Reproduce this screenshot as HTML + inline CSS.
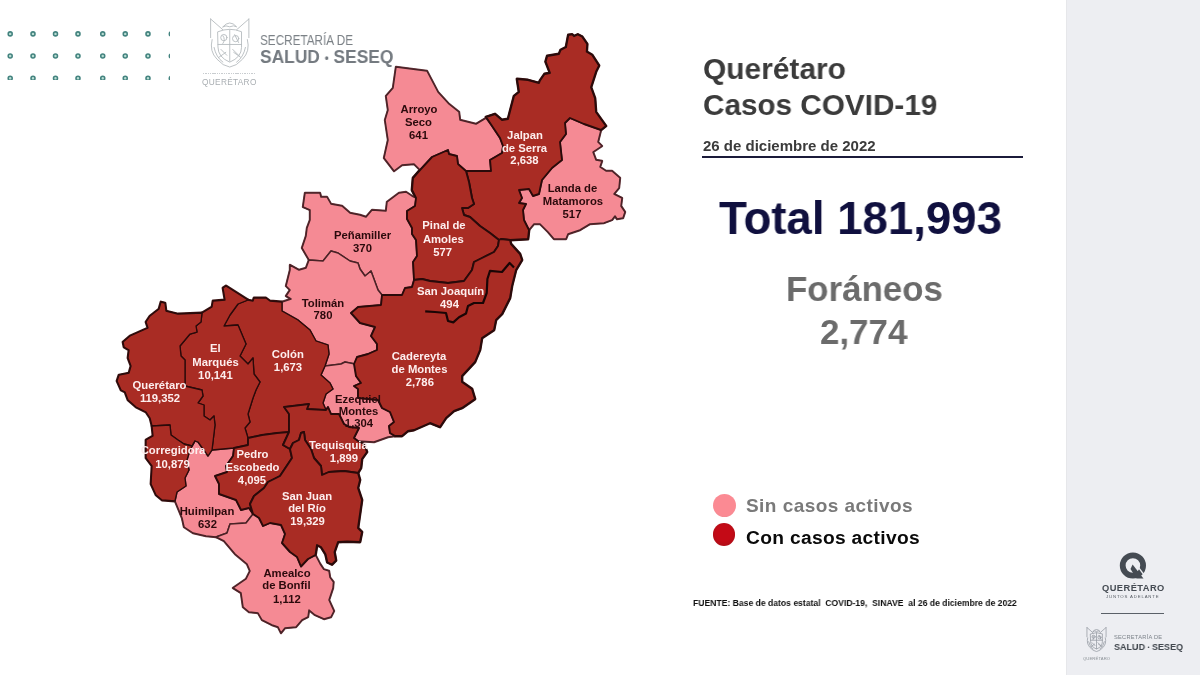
<!DOCTYPE html>
<html lang="es"><head><meta charset="utf-8"><title>Querétaro Casos COVID-19</title>
<style>
html,body{margin:0;padding:0;background:#fff;}
body{width:1200px;height:675px;position:relative;overflow:hidden;font-family:"Liberation Sans",sans-serif;}
.abs{position:absolute;}
.map{position:absolute;left:0;top:0;}
.t{position:absolute;white-space:nowrap;font-weight:bold;line-height:1;will-change:transform;}
#side{position:absolute;left:1066px;top:0;width:134px;height:675px;background:#EDEEF2;box-shadow:inset 1px 0 0 #e6e7ea;}
</style></head><body>
<svg class="abs" style="left:0;top:0" width="169.6" height="80.1" viewBox="0 0 169.6 80.1"><circle cx="10.2" cy="33.9" r="2.0" fill="#b9ddd3" stroke="#43837f" stroke-width="1.55"/><circle cx="33" cy="33.9" r="2.0" fill="#b9ddd3" stroke="#43837f" stroke-width="1.55"/><circle cx="55.5" cy="33.9" r="2.0" fill="#b9ddd3" stroke="#43837f" stroke-width="1.55"/><circle cx="78" cy="33.9" r="2.0" fill="#b9ddd3" stroke="#43837f" stroke-width="1.55"/><circle cx="102.75" cy="33.9" r="2.0" fill="#b9ddd3" stroke="#43837f" stroke-width="1.55"/><circle cx="125.25" cy="33.9" r="2.0" fill="#b9ddd3" stroke="#43837f" stroke-width="1.55"/><circle cx="148" cy="33.9" r="2.0" fill="#b9ddd3" stroke="#43837f" stroke-width="1.55"/><circle cx="171.3" cy="33.9" r="2.0" fill="#b9ddd3" stroke="#43837f" stroke-width="1.55"/><circle cx="10.2" cy="56" r="2.0" fill="#b9ddd3" stroke="#43837f" stroke-width="1.55"/><circle cx="33" cy="56" r="2.0" fill="#b9ddd3" stroke="#43837f" stroke-width="1.55"/><circle cx="55.5" cy="56" r="2.0" fill="#b9ddd3" stroke="#43837f" stroke-width="1.55"/><circle cx="78" cy="56" r="2.0" fill="#b9ddd3" stroke="#43837f" stroke-width="1.55"/><circle cx="102.75" cy="56" r="2.0" fill="#b9ddd3" stroke="#43837f" stroke-width="1.55"/><circle cx="125.25" cy="56" r="2.0" fill="#b9ddd3" stroke="#43837f" stroke-width="1.55"/><circle cx="148" cy="56" r="2.0" fill="#b9ddd3" stroke="#43837f" stroke-width="1.55"/><circle cx="171.3" cy="56" r="2.0" fill="#b9ddd3" stroke="#43837f" stroke-width="1.55"/><circle cx="10.2" cy="78.3" r="2.0" fill="#b9ddd3" stroke="#43837f" stroke-width="1.55"/><circle cx="33" cy="78.3" r="2.0" fill="#b9ddd3" stroke="#43837f" stroke-width="1.55"/><circle cx="55.5" cy="78.3" r="2.0" fill="#b9ddd3" stroke="#43837f" stroke-width="1.55"/><circle cx="78" cy="78.3" r="2.0" fill="#b9ddd3" stroke="#43837f" stroke-width="1.55"/><circle cx="102.75" cy="78.3" r="2.0" fill="#b9ddd3" stroke="#43837f" stroke-width="1.55"/><circle cx="125.25" cy="78.3" r="2.0" fill="#b9ddd3" stroke="#43837f" stroke-width="1.55"/><circle cx="148" cy="78.3" r="2.0" fill="#b9ddd3" stroke="#43837f" stroke-width="1.55"/><circle cx="171.3" cy="78.3" r="2.0" fill="#b9ddd3" stroke="#43837f" stroke-width="1.55"/></svg>
<svg class="abs" style="left:209px;top:17.5px;opacity:1" width="41.5" height="51" viewBox="0 0 42 52">
 <g fill="none" stroke="#b4b9bd" stroke-width="0.9" stroke-linejoin="round" stroke-linecap="round">
  <path d="M1.5 1 L1.5 20 M1.5 1 L14 12 M40.5 1 L40.5 20 M40.5 1 L28 12"/>
  <path d="M14 9 Q21 1 28 9 Q25 7 21 9 Q17 7 14 9 Z"/>
  <path d="M9 14 Q21 9 33 14 L33 30 Q33 40 21 45 Q9 40 9 30 Z"/>
  <path d="M9 27 H33 M21 12 V44 M14 18 Q17 22 14 26 M26 17 L30 25 M24 32 L30 38 M12 32 L18 38"/>
  <circle cx="15" cy="20" r="3.2"/><circle cx="27" cy="21" r="3.2"/>
  <path d="M3 22 Q0 34 8 42 Q14 49 21 50 Q28 49 34 42 Q42 34 39 22"/>
  <path d="M5 30 Q7 40 14 45 M37 30 Q35 40 28 45"/>
  <path d="M10 40 L17 35 M32 40 L25 35"/>
 </g>
</svg>
<div class="abs" style="left:203px;top:72.5px;width:53px;height:1.6px;background:repeating-linear-gradient(90deg,#c9cdd0 0 1.4px,transparent 1.4px 2.3px)"></div>
<div class="t" style="left:202px;top:78.27px;font-size:8.3px;color:#a9aeb2;font-weight:normal;letter-spacing:0.3px;">QUERÉTARO</div>
<div class="t" style="left:259.7px;top:33.35px;font-size:14px;color:#7b8186;font-weight:normal;transform-origin:0 0;transform:scaleX(0.838);">SECRETARÍA DE</div>
<div class="t" style="left:259.7px;top:47.66px;font-size:18.6px;color:#747a80;transform-origin:0 0;transform:scaleX(0.935);">SALUD <span style="font-size:12px;position:relative;top:-1.5px">•</span> SESEQ</div>
<svg class="map" width="1200" height="675" viewBox="0 0 1200 675">
<defs><clipPath id="tq"><rect x="280" y="430" width="87.5" height="30"/></clipPath></defs>
<g fill="none" stroke="#3a1414" stroke-width="2.8" stroke-linejoin="round">
<polygon points="486,117 495,114 502,120 508,119 514,96 519,92 517,79 528,80 539,83 540,80.5 544.5,74 550,73 545.6,61.7 547.2,56 559,54 560.6,50 566,47.2 568.3,35 572.2,34.4 574,36.2 577.8,34.4 582.2,36.7 587.2,44 586.7,51.7 592.2,55 599,65.6 596,71.7 591,87.2 595,98.3 596,112 606,126 601,130 584,124 570,118 565,123 566,134 560,142 562,160 552,168 542,180 539,194 533,196 529,189 519,190 522,198 519,203 526,204 523,210 524,220 529,230 528,239 510,240 501,239 499,240 490,233 480,226 470,217 464,215 462,208 468,208 474,204 472,198 469,182 466,171 491,171 490,160 502,153 503,146 500,138 492,126"/>
<polygon points="420,170 432,157 448,150 449,154 457,156 458,164 466,171 469,182 472,198 474,204 468,208 462,208 464,215 470,217 480,226 490,233 499,240 498,246 494,252 482,258 474,262 472,270 464,281 448,283 430,281 422,279 414,280 413,262 417,256 416,240 412,234 412,228 407,219 407,211 415,206 416,198 412,190 413,178"/>
<polygon points="382,295 402,295 405,288 412,287 414,280 422,279 430,281 448,283 464,281 472,270 474,262 482,258 494,252 498,246 499,240 501,239 510,240 511,244 520,254 522,260 516,270 512,286 510,298 502,314 496,320 494,330 482,338 480,350 475,362 462,376 462,382 472,389 475,399 462,408 454,411 446,418 440,427 430,423 414,430 408,431 402,436 395,436 390,433 389,426 394,422 390,412 382,408 378,400 358,398 358,389 354,386 361,383 356,376 354,364 357,357 368,354 377,350 377,344 371,336 375,327 360,323 351,313 358,307 381,305"/>
<polygon points="282,302 282,311 298,320 310,330 316,341 328,345 329,354 325,366 321,375 330,383 333,389 326,394 323,403 326,410 307,409 309,404 284,407 289,414 289,432 277,433 262,435 248,438 245,428 250,422 248,414 253,398 256,390 260,382 254,374 253,358 248,364 240,356 246,344 238,325 224,326 230,315 238,304 248,300 253,301 254,298 266,298 270,301"/>
<polygon points="248,300 226,286 223,288 225,300 213,301 212,307 202,313 201,322 196,326 197,332 190,334 180,346 181,356 185,360 185,386 202,390 203,396 198,403 204,405 204,416 210,420 214,416 215,425 212,450 234,448 248,445 248,438 245,428 250,422 248,414 253,398 256,390 260,382 254,374 253,358 248,364 240,356 246,344 238,325 224,326 230,315 238,304"/>
<polygon points="202,313 178,314 166,311 165,303 161,302 159,309 150,316 146,322 148,328 130,336 123,342 124,347 129,350 128,358 131,366 129,373 119,375 117,381 121,390 125,392 128,400 136,407 146,412 150,418 152,426 170,425 171,435 178,440 184,444 192,446 195,441 198,442 208,456 212,450 215,425 214,416 210,420 204,416 204,405 198,403 203,396 202,390 185,386 185,360 181,356 180,346 190,334 197,332 196,326 201,322"/>
<polygon points="152,426 170,425 171,435 178,440 184,444 192,446 195,441 190,450 187,460 189,470 185,478 186,486 177,492 175,501 162,500 156,495 151,484 152,466 146,458 146,440 153,436"/>
<polygon points="234,448 248,445 248,438 262,435 277,433 289,432 283,445 290,449 292,458 284,470 280,476 268,482 264,488 254,496 250,504 253,514 249,508 241,510 236,500 219,494 219,484 215,476 227,472 226,466 233,456"/>
<polygon points="284,407 309,404 307,409 326,410 328,407 331,414 339,414 344,424 349,427 359,428 354,438 358,441 364,444 367,452 362,459 361,468 358,473 344,471 329,472 322,475 321,466 314,458 311,449 305,440 304,432 301,433 299,440 293,443 290,449 283,445 289,432 289,414"/>
<polygon points="290,449 293,443 299,440 301,433 304,432 305,440 311,449 314,458 321,466 322,475 329,472 344,471 358,473 360,480 358,488 362,500 358,528 362,532 360,542 347,541.5 338,542 334.5,552 336,560.5 332,564.5 327.3,562.3 325.5,554.3 321,547 317,545 315.5,555 308,559 301,566.5 297,557 290,552 282,543 285,534 281,525 270,523 263,526 259,518 253,514 250,504 254,496 264,488 268,482 280,476 284,470 292,458"/>
</g>
<g fill="none" stroke="#6a3a40" stroke-width="2.4" stroke-linejoin="round">
<polygon points="396,67 427,71 438,92 449,104 459,112 460,120 476,124 486,118 492,126 500,138 503,146 502,153 490,160 491,171 466,171 458,164 457,156 449,154 448,150 432,157 420,170 414,164 402,165 394,171 384,158 388,140 385,120 388,110 386,96 393,88"/>
<polygon points="601,130 598,142 602,146 593,152 596,160 602,161 600,167 606,171 612,171 620,178 619,188 614,194 622,198 621,206 625,212 623,218 617,219 615,216 612,220 604,223 590,224 580,230 568,234 566,239 554,239 548,232 540,224 534,224 529,230 524,220 523,210 526,204 519,203 522,198 519,190 529,189 533,196 539,194 542,180 552,168 562,160 560,142 566,134 565,123 570,118 584,124"/>
<polygon points="305,193 320,193 321,197 327,197 331,204 342,206 350,213 360,215 366,217 372,210 386,211 387,202 399,193 406,192 412,196 416,198 415,206 407,211 407,219 412,228 412,234 416,240 417,256 413,262 414,280 412,287 405,288 402,295 382,295 378,290 371,271 365,276 360,269 358,263 350,261 338,253 331,251 323,261 309,260 302,248 306,236 307,228 310,220 310,210 303,207"/>
<polygon points="309,260 323,261 331,251 338,253 350,261 358,263 360,269 365,276 371,271 378,290 382,295 381,305 358,307 351,313 360,323 375,327 371,336 377,344 377,350 368,354 357,357 355,364 345,362 341,364 325,366 329,354 328,345 316,341 310,330 298,320 282,311 282,302 291,299 286,296 290,290 286,286 290,270 290,265 299,270 306,268"/>
<polygon points="325,366 341,364 345,362 355,364 356,376 361,383 354,386 358,389 358,398 378,400 382,408 390,412 394,422 389,426 390,433 395,436 388,437 374,442 358,441 354,438 359,428 349,427 344,424 339,414 331,414 328,407 326,410 323,403 326,394 333,389 330,383 321,375"/>
<polygon points="195,441 198,442 208,456 212,450 234,448 233,456 226,466 227,472 215,476 219,484 219,494 236,500 241,510 249,508 253,514 246,523 230,524 227,533 216,537 206,536 193,533 184,527 182,518 175,501 177,492 186,486 185,478 189,470 187,460 190,450"/>
<polygon points="216,537 227,533 230,524 246,523 253,514 259,518 263,526 270,523 281,525 285,534 282,543 290,552 297,557 301,566.5 308,559 315.5,555 320.2,564 323.8,569.4 329,571 330,577.4 333.5,582 333,588 329,600 334,611 331,617 324,619 315,615 309,610 308,617 302,620 296,627 285,628 281,633 278,627 272,625 262,620 258,613 249,612 243,607 241,593 233,588 246,579 250,571 247,564 235,554 224,541"/>
</g>
<g stroke="#4a2226" stroke-width="1.5" stroke-linejoin="round">
<polygon fill="#F58A94" points="396,67 427,71 438,92 449,104 459,112 460,120 476,124 486,118 492,126 500,138 503,146 502,153 490,160 491,171 466,171 458,164 457,156 449,154 448,150 432,157 420,170 414,164 402,165 394,171 384,158 388,140 385,120 388,110 386,96 393,88"/>
<polygon fill="#F58A94" points="601,130 598,142 602,146 593,152 596,160 602,161 600,167 606,171 612,171 620,178 619,188 614,194 622,198 621,206 625,212 623,218 617,219 615,216 612,220 604,223 590,224 580,230 568,234 566,239 554,239 548,232 540,224 534,224 529,230 524,220 523,210 526,204 519,203 522,198 519,190 529,189 533,196 539,194 542,180 552,168 562,160 560,142 566,134 565,123 570,118 584,124"/>
<polygon fill="#F58A94" points="305,193 320,193 321,197 327,197 331,204 342,206 350,213 360,215 366,217 372,210 386,211 387,202 399,193 406,192 412,196 416,198 415,206 407,211 407,219 412,228 412,234 416,240 417,256 413,262 414,280 412,287 405,288 402,295 382,295 378,290 371,271 365,276 360,269 358,263 350,261 338,253 331,251 323,261 309,260 302,248 306,236 307,228 310,220 310,210 303,207"/>
<polygon fill="#F58A94" points="309,260 323,261 331,251 338,253 350,261 358,263 360,269 365,276 371,271 378,290 382,295 381,305 358,307 351,313 360,323 375,327 371,336 377,344 377,350 368,354 357,357 355,364 345,362 341,364 325,366 329,354 328,345 316,341 310,330 298,320 282,311 282,302 291,299 286,296 290,290 286,286 290,270 290,265 299,270 306,268"/>
<polygon fill="#F58A94" points="325,366 341,364 345,362 355,364 356,376 361,383 354,386 358,389 358,398 378,400 382,408 390,412 394,422 389,426 390,433 395,436 388,437 374,442 358,441 354,438 359,428 349,427 344,424 339,414 331,414 328,407 326,410 323,403 326,394 333,389 330,383 321,375"/>
<polygon fill="#F58A94" points="195,441 198,442 208,456 212,450 234,448 233,456 226,466 227,472 215,476 219,484 219,494 236,500 241,510 249,508 253,514 246,523 230,524 227,533 216,537 206,536 193,533 184,527 182,518 175,501 177,492 186,486 185,478 189,470 187,460 190,450"/>
<polygon fill="#F58A94" points="216,537 227,533 230,524 246,523 253,514 259,518 263,526 270,523 281,525 285,534 282,543 290,552 297,557 301,566.5 308,559 315.5,555 320.2,564 323.8,569.4 329,571 330,577.4 333.5,582 333,588 329,600 334,611 331,617 324,619 315,615 309,610 308,617 302,620 296,627 285,628 281,633 278,627 272,625 262,620 258,613 249,612 243,607 241,593 233,588 246,579 250,571 247,564 235,554 224,541"/>
</g>
<g stroke="#2a0a0a" stroke-linejoin="round">
<polygon fill="#A92C24" stroke-width="1.9" points="486,117 495,114 502,120 508,119 514,96 519,92 517,79 528,80 539,83 540,80.5 544.5,74 550,73 545.6,61.7 547.2,56 559,54 560.6,50 566,47.2 568.3,35 572.2,34.4 574,36.2 577.8,34.4 582.2,36.7 587.2,44 586.7,51.7 592.2,55 599,65.6 596,71.7 591,87.2 595,98.3 596,112 606,126 601,130 584,124 570,118 565,123 566,134 560,142 562,160 552,168 542,180 539,194 533,196 529,189 519,190 522,198 519,203 526,204 523,210 524,220 529,230 528,239 510,240 501,239 499,240 490,233 480,226 470,217 464,215 462,208 468,208 474,204 472,198 469,182 466,171 491,171 490,160 502,153 503,146 500,138 492,126"/>
<polygon fill="#A92C24" stroke-width="1.9" points="420,170 432,157 448,150 449,154 457,156 458,164 466,171 469,182 472,198 474,204 468,208 462,208 464,215 470,217 480,226 490,233 499,240 498,246 494,252 482,258 474,262 472,270 464,281 448,283 430,281 422,279 414,280 413,262 417,256 416,240 412,234 412,228 407,219 407,211 415,206 416,198 412,190 413,178"/>
<polygon fill="#A92C24" stroke-width="1.9" points="382,295 402,295 405,288 412,287 414,280 422,279 430,281 448,283 464,281 472,270 474,262 482,258 494,252 498,246 499,240 501,239 510,240 511,244 520,254 522,260 516,270 512,286 510,298 502,314 496,320 494,330 482,338 480,350 475,362 462,376 462,382 472,389 475,399 462,408 454,411 446,418 440,427 430,423 414,430 408,431 402,436 395,436 390,433 389,426 394,422 390,412 382,408 378,400 358,398 358,389 354,386 361,383 356,376 354,364 357,357 368,354 377,350 377,344 371,336 375,327 360,323 351,313 358,307 381,305"/>
<polygon fill="#A92C24" stroke-width="1.3" points="282,302 282,311 298,320 310,330 316,341 328,345 329,354 325,366 321,375 330,383 333,389 326,394 323,403 326,410 307,409 309,404 284,407 289,414 289,432 277,433 262,435 248,438 245,428 250,422 248,414 253,398 256,390 260,382 254,374 253,358 248,364 240,356 246,344 238,325 224,326 230,315 238,304 248,300 253,301 254,298 266,298 270,301"/>
<polygon fill="#A92C24" stroke-width="1.3" points="248,300 226,286 223,288 225,300 213,301 212,307 202,313 201,322 196,326 197,332 190,334 180,346 181,356 185,360 185,386 202,390 203,396 198,403 204,405 204,416 210,420 214,416 215,425 212,450 234,448 248,445 248,438 245,428 250,422 248,414 253,398 256,390 260,382 254,374 253,358 248,364 240,356 246,344 238,325 224,326 230,315 238,304"/>
<polygon fill="#A92C24" stroke-width="1.3" points="202,313 178,314 166,311 165,303 161,302 159,309 150,316 146,322 148,328 130,336 123,342 124,347 129,350 128,358 131,366 129,373 119,375 117,381 121,390 125,392 128,400 136,407 146,412 150,418 152,426 170,425 171,435 178,440 184,444 192,446 195,441 198,442 208,456 212,450 215,425 214,416 210,420 204,416 204,405 198,403 203,396 202,390 185,386 185,360 181,356 180,346 190,334 197,332 196,326 201,322"/>
<polygon fill="#A92C24" stroke-width="1.3" points="152,426 170,425 171,435 178,440 184,444 192,446 195,441 190,450 187,460 189,470 185,478 186,486 177,492 175,501 162,500 156,495 151,484 152,466 146,458 146,440 153,436"/>
<polygon fill="#A92C24" stroke-width="1.9" points="234,448 248,445 248,438 262,435 277,433 289,432 283,445 290,449 292,458 284,470 280,476 268,482 264,488 254,496 250,504 253,514 249,508 241,510 236,500 219,494 219,484 215,476 227,472 226,466 233,456"/>
<polygon fill="#A92C24" stroke-width="1.9" points="284,407 309,404 307,409 326,410 328,407 331,414 339,414 344,424 349,427 359,428 354,438 358,441 364,444 367,452 362,459 361,468 358,473 344,471 329,472 322,475 321,466 314,458 311,449 305,440 304,432 301,433 299,440 293,443 290,449 283,445 289,432 289,414"/>
<polygon fill="#A92C24" stroke-width="1.9" points="290,449 293,443 299,440 301,433 304,432 305,440 311,449 314,458 321,466 322,475 329,472 344,471 358,473 360,480 358,488 362,500 358,528 362,532 360,542 347,541.5 338,542 334.5,552 336,560.5 332,564.5 327.3,562.3 325.5,554.3 321,547 317,545 315.5,555 308,559 301,566.5 297,557 290,552 282,543 285,534 281,525 270,523 263,526 259,518 253,514 250,504 254,496 264,488 268,482 280,476 284,470 292,458"/>
</g>
<polyline fill="none" stroke="#1a0505" stroke-width="2.2" stroke-linejoin="round" points="514,267.5 509.6,263 502,272 490,270.8 487.4,279 486.7,293 483,303 474,303 468,306 466,313.5 459,317.2 453.3,322.4 448,321 446,313 435,312 425.2,311.3"/>
<g font-family="Liberation Sans, sans-serif" font-weight="bold" font-size="11.3" text-anchor="middle">
<text x="419" y="113" fill="#2b0a0c">Arroyo</text>
<text x="418.5" y="126" fill="#2b0a0c">Seco</text>
<text x="418.5" y="139" fill="#2b0a0c">641</text>
<text x="525" y="138.5" fill="#fdeeee">Jalpan</text>
<text x="524.5" y="151.5" fill="#fdeeee">de Serra</text>
<text x="524.5" y="164.4" fill="#fdeeee">2,638</text>
<text x="572.5" y="192" fill="#2b0a0c">Landa de</text>
<text x="573" y="205" fill="#2b0a0c">Matamoros</text>
<text x="572" y="218" fill="#2b0a0c">517</text>
<text x="362.5" y="239" fill="#2b0a0c">Peñamiller</text>
<text x="362.5" y="251.8" fill="#2b0a0c">370</text>
<text x="444" y="229.3" fill="#fdeeee">Pinal de</text>
<text x="443.3" y="242.5" fill="#fdeeee">Amoles</text>
<text x="442.6" y="255.6" fill="#fdeeee">577</text>
<text x="450.5" y="295" fill="#fdeeee">San Joaquín</text>
<text x="449.5" y="308" fill="#fdeeee">494</text>
<text x="323" y="306.6" fill="#2b0a0c">Tolimán</text>
<text x="323" y="319.4" fill="#2b0a0c">780</text>
<text x="419" y="360" fill="#fdeeee">Cadereyta</text>
<text x="419.5" y="373" fill="#fdeeee">de Montes</text>
<text x="419.8" y="386.2" fill="#fdeeee">2,786</text>
<text x="215.4" y="352.4" fill="#fdeeee">El</text>
<text x="215.5" y="366" fill="#fdeeee">Marqués</text>
<text x="215.4" y="378.8" fill="#fdeeee">10,141</text>
<text x="287.8" y="357.6" fill="#fdeeee">Colón</text>
<text x="288" y="371" fill="#fdeeee">1,673</text>
<text x="159.5" y="389" fill="#fdeeee">Querétaro</text>
<text x="160" y="401.6" fill="#fdeeee">119,352</text>
<text x="358" y="403" fill="#2b0a0c">Ezequiel</text>
<text x="358.5" y="415" fill="#2b0a0c">Montes</text>
<text x="359" y="427" fill="#2b0a0c">1,304</text>
<text x="173" y="454.4" fill="#fdeeee">Corregidora</text>
<text x="172.5" y="467.6" fill="#fdeeee">10,879</text>
<text x="344" y="462" fill="#fdeeee">1,899</text>
<text x="252.5" y="458" fill="#fdeeee">Pedro</text>
<text x="252.5" y="471" fill="#fdeeee">Escobedo</text>
<text x="252" y="484" fill="#fdeeee">4,095</text>
<text x="307" y="499.6" fill="#fdeeee">San Juan</text>
<text x="307" y="512.4" fill="#fdeeee">del Río</text>
<text x="307.6" y="525.3" fill="#fdeeee">19,329</text>
<text x="207" y="515" fill="#2b0a0c">Huimilpan</text>
<text x="207.5" y="528" fill="#2b0a0c">632</text>
<text x="287" y="576.8" fill="#2b0a0c">Amealco</text>
<text x="286.4" y="589.2" fill="#2b0a0c">de Bonfil</text>
<text x="286.9" y="602.5" fill="#2b0a0c">1,112</text>
<text x="309" y="449" fill="#fdeeee" text-anchor="start" clip-path="url(#tq)">Tequisquiapan</text>
</g>
</svg>
<div class="t" style="left:703px;top:53.65px;font-size:30.3px;color:#3b3b3b;transform-origin:0 0;transform:scaleX(0.987);">Querétaro</div>
<div class="t" style="left:703px;top:90.15px;font-size:30.3px;color:#3b3b3b;transform-origin:0 0;transform:scaleX(0.98);">Casos COVID-19</div>
<div class="t" style="left:703px;top:137.60px;font-size:15px;color:#3b3b3b;">26 de diciembre de 2022</div>
<div class="abs" style="left:702px;top:156px;width:321px;height:2px;background:#1b1b3a"></div>
<div class="t" style="left:719.3px;top:194.66px;font-size:46px;color:#10103f;transform-origin:0 0;transform:scaleX(0.991);">Total 181,993</div>
<div class="t" style="left:785.5px;top:272.13px;font-size:35.4px;color:#6b6b6b;transform-origin:0 0;transform:scaleX(0.985);">Foráneos</div>
<div class="t" style="left:820px;top:314.53px;font-size:35.4px;color:#6b6b6b;transform-origin:0 0;transform:scaleX(0.985);">2,774</div>
<div class="abs" style="left:712.6px;top:493.7px;width:23px;height:23px;border-radius:50%;background:radial-gradient(circle at 50% 45%,#FB8A93 0 62%,#EE8991 88%,#E58C94 100%)"></div>
<div class="abs" style="left:712.9px;top:523px;width:22.6px;height:22.6px;border-radius:50%;background:radial-gradient(circle at 50% 45%,#C40A16 0 45%,#B00D17 75%,#8F0F15 100%)"></div>
<div class="t" style="left:746px;top:496.32px;font-size:19px;color:#7a7a7a;letter-spacing:0.45px;">Sin casos activos</div>
<div class="t" style="left:746px;top:527.75px;font-size:19.2px;color:#0a0a0a;letter-spacing:0.32px;">Con casos activos</div>
<div class="t" style="left:693.3px;top:597.84px;font-size:9.4px;color:#111;transform-origin:0 0;transform:scaleX(0.917);">FUENTE: Base de datos estatal&nbsp; COVID-19,&nbsp; SINAVE&nbsp; al 26 de diciembre de 2022</div>
<div id="side"></div>
<svg class="abs" style="left:1118px;top:550px" width="30" height="32" viewBox="0 0 30 32">
 <circle cx="14.9" cy="15.5" r="10.2" fill="none" stroke="#454b53" stroke-width="5.8"/>
 <path d="M14.6 14.6 L25.5 28.4 L18.5 28.4 L12.5 19 Z" fill="#454b53"/>
 <path d="M17.2 13.2 L25.8 24.5" stroke="#EDEEF2" stroke-width="1.3" fill="none"/>
</svg>
<div class="t" style="left:1102.2px;top:584.43px;font-size:9.3px;color:#454b53;letter-spacing:0.45px;">QUERÉTARO</div>
<div class="t" style="left:1106px;top:595.06px;font-size:4.3px;color:#555b63;font-weight:normal;letter-spacing:0.85px;">JUNTOS ADELANTE</div>
<div class="abs" style="left:1101.3px;top:612.9px;width:62.8px;height:1.2px;background:#5a6068"></div>
<svg class="abs" style="left:1086px;top:627px;opacity:1" width="21" height="25.5" viewBox="0 0 42 52">
 <g fill="none" stroke="#9298a0" stroke-width="1.5" stroke-linejoin="round" stroke-linecap="round">
  <path d="M1.5 1 L1.5 20 M1.5 1 L14 12 M40.5 1 L40.5 20 M40.5 1 L28 12"/>
  <path d="M14 9 Q21 1 28 9 Q25 7 21 9 Q17 7 14 9 Z"/>
  <path d="M9 14 Q21 9 33 14 L33 30 Q33 40 21 45 Q9 40 9 30 Z"/>
  <path d="M9 27 H33 M21 12 V44 M14 18 Q17 22 14 26 M26 17 L30 25 M24 32 L30 38 M12 32 L18 38"/>
  <circle cx="15" cy="20" r="3.2"/><circle cx="27" cy="21" r="3.2"/>
  <path d="M3 22 Q0 34 8 42 Q14 49 21 50 Q28 49 34 42 Q42 34 39 22"/>
  <path d="M5 30 Q7 40 14 45 M37 30 Q35 40 28 45"/>
  <path d="M10 40 L17 35 M32 40 L25 35"/>
 </g>
</svg>
<div class="t" style="left:1083px;top:656.64px;font-size:4.2px;color:#8a9096;font-weight:normal;letter-spacing:0.1px;">QUERÉTARO</div>
<div class="t" style="left:1114px;top:635.17px;font-size:5.7px;color:#7d838a;font-weight:normal;letter-spacing:0.25px;">SECRETARÍA DE</div>
<div class="t" style="left:1114px;top:641.70px;font-size:9.8px;color:#40464d;transform-origin:0 0;transform:scaleX(0.92);">SALUD <span style="font-size:6px;position:relative;top:-1px">•</span> SESEQ</div>
</body></html>
